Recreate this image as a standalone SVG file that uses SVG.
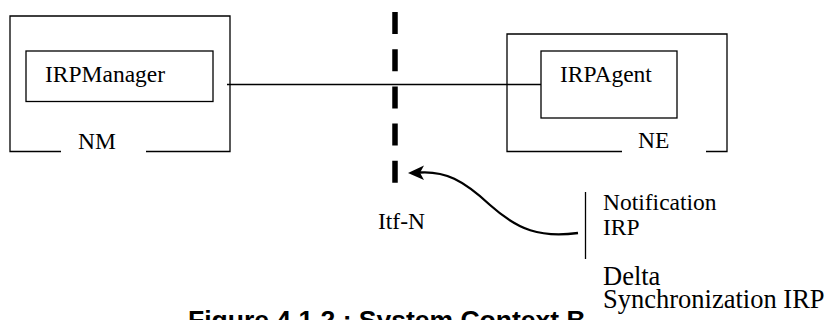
<svg xmlns="http://www.w3.org/2000/svg" width="830" height="320" viewBox="0 0 830 320">
<defs>
<style>
.ln{fill:none;stroke:#000;stroke-width:1.3}
.t{font-family:"Liberation Serif","Times New Roman",serif;font-size:23.5px;fill:#000}
.big{font-size:26.5px}
.cap{font-family:"Liberation Sans",Arial,sans-serif;font-weight:bold;font-size:26.5px;fill:#000}
</style>
</defs>
<rect width="830" height="320" fill="#fff"/>
<g id="NM">
<path class="ln" d="M61,151.5 H10 V16 H230 V151.5 H146"/>
<text class="t" x="78" y="149">NM</text>
</g>
<g id="IRPManager">
<rect class="ln" x="26" y="51" width="187" height="50.5"/>
<text class="t" x="45" y="82">IRPManager</text>
</g>
<g id="NE">
<path class="ln" d="M622,151.5 H507 V34 H727 V151.5 H706"/>
<text class="t" x="638" y="148">NE</text>
</g>
<g id="IRPAgent">
<rect class="ln" x="541" y="51" width="136" height="67"/>
<text class="t" x="560" y="82">IRPAgent</text>
</g>
<g id="ItfN">
<line x1="395" y1="12" x2="395" y2="184" stroke="#000" stroke-width="5.5" stroke-dasharray="22,15.2"/>
<text class="t" x="378" y="229">Itf-N</text>
</g>
<g id="NotificationIRP">
<line class="ln" x1="585.5" y1="192" x2="585.5" y2="259"/>
<text class="t" x="603" y="210">Notification</text>
<text class="t" x="603" y="235">IRP</text>
</g>
<g id="DeltaSync">
<text class="t big" x="603" y="285">Delta</text>
<text class="t big" x="603" y="308">Synchronization IRP</text>
</g>
<g id="connectors">
<line class="ln" x1="227" y1="84.5" x2="541" y2="84.5"/>
<path d="M578,233 C540,238 518,230 490,205 C463,180 445,171 420,172.5" fill="none" stroke="#000" stroke-width="2.3"/>
<path d="M408,173 L424,165.5 L420,172.8 L424,180 Z" fill="#000"/>
</g>
<text class="cap" x="188" y="329">Figure 4.1.2 : System Context B</text>
</svg>
